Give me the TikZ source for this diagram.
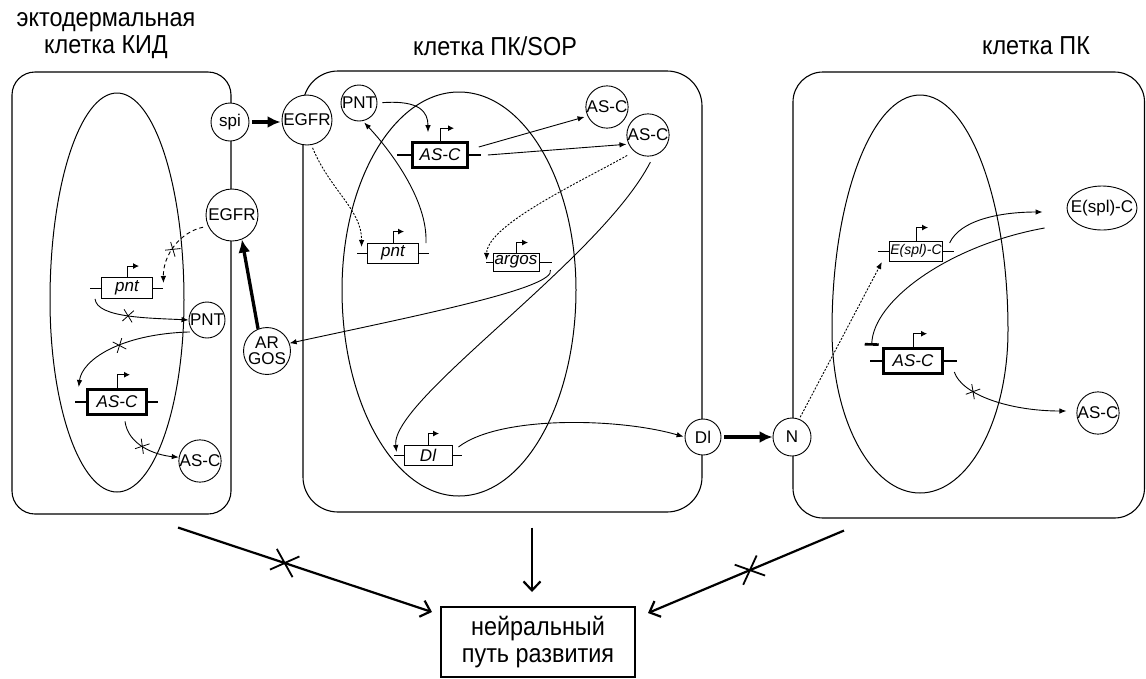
\documentclass[tikz,border=0pt]{standalone}
\usepackage{fontspec}
\setmainfont{Liberation Sans}
\newfontfamily\narrowf[FakeStretch=0.9]{Liberation Sans}
\usetikzlibrary{arrows.meta,shapes.geometric,shapes.misc,calc}
\newcommand\molf{\fontsize{17}{16}\selectfont}
\newcommand\genef{\fontsize{17}{18}\selectfont\itshape}
\newcommand\smgenef{\fontsize{14}{15}\selectfont\itshape}
\newcommand\lblf{\narrowf\fontsize{26}{27}\selectfont}
\newcommand\bigf{\narrowf\fontsize{26}{27}\selectfont}
% egg-shaped nucleus: cx, top, widest y, bottom, half width
\newcommand\myegg[5]{%
 \draw[eggline] (#1,#2) .. controls ({#1-0.552*#5},#2) and ({#1-#5},{#3-0.552*(#3-#2)}) .. ({#1-#5},#3)
 .. controls ({#1-#5},{#3+0.552*(#4-#3)}) and ({#1-0.552*#5},#4) .. (#1,#4)
 .. controls ({#1+0.552*#5},#4) and ({#1+#5},{#3+0.552*(#4-#3)}) .. ({#1+#5},#3)
 .. controls ({#1+#5},{#3-0.552*(#3-#2)}) and ({#1+0.552*#5},#2) .. (#1,#2) -- cycle;}
\begin{document}
\begin{tikzpicture}[x=1pt,y=-1pt,
 cell/.style={draw, line width=1.1pt, inner sep=0pt},
 eggline/.style={line width=1pt},
 mol/.style={circle, draw, fill=white, line width=0.9pt, inner sep=0pt, font=\molf},
 gene/.style={draw, fill=white, line width=0.9pt, inner sep=0.5pt, font=\genef},
 bgene/.style={gene, line width=2.6pt},
 stub/.style={line width=0.9pt},
 bstub/.style={line width=2.8pt},
 prom/.style={line width=0.9pt, -{Latex[length=6pt,width=6pt]}},
 conn/.style={line width=0.9pt, -{Latex[length=7pt,width=5.5pt]}},
 ldash/.style={dash pattern=on 4pt off 3pt},
 sdash/.style={dash pattern=on 2pt off 1.5pt},
 fat/.style={line width=3.3pt, -{Latex[length=13pt,width=12pt]}},
 rep/.style={line width=0.9pt, -{Bar[width=14pt,line width=2.6pt]}},
 bigarr/.style={line width=2.2pt, -{Straight Barb[length=9pt,width=17pt]}},
 xm/.style={cross out, draw, solid, arrows=-, shorten <=0pt, shorten >=0pt, line width=0.8pt, minimum width=9pt, minimum height=11pt, inner sep=0pt, sloped},
 xbig/.style={xm, line width=1.8pt, minimum width=22pt, minimum height=20pt},
 lbl/.style={font=\lblf, inner sep=0pt}
]
\useasboundingbox (0,0) rectangle (1146,678);
% titles
\node[lbl, align=center] (tL) at (106,36) {эктодермальная\\клетка КИД};
\node[lbl] (tM) at (495,46) {клетка ПК/SOP};
\node[lbl] (tR) at (1036,46) {клетка ПК};
% cells
\node[cell, rounded corners=23pt, minimum width=219pt, minimum height=442pt] (cellL) at (121.5,293) {};
\node[cell, rounded corners=35pt, minimum width=399pt, minimum height=441pt] (cellM) at (502.5,291.5) {};
\node[cell, rounded corners=30pt, minimum width=351.5pt, minimum height=446pt] (cellR) at (968.75,295) {};
% nuclei
\myegg{117}{93}{300}{492}{67}
\myegg{459}{92}{290}{496}{117}
\myegg{920}{95}{330}{493}{88}
% molecules
\node[mol, minimum size=38pt] (spi) at (230,122) {spi};
\node[mol, minimum size=52pt] (egfrL) at (232,215) {EGFR};
\node[mol, minimum size=36pt] (pntLp) at (207,320) {PNT};
\node[mol, minimum size=42pt] (ascLp) at (200,461) {AS-C};
\node[mol, minimum size=46pt, align=center] (argosp) at (267,351) {AR\\GOS};
\node[mol, minimum size=50pt] (egfrM) at (307,120) {EGFR};
\node[mol, minimum size=36pt] (pntMp) at (359,103) {PNT};
\node[mol, minimum size=40pt] (asc1) at (607,107) {AS-C};
\node[mol, minimum size=42pt] (asc2) at (648,135) {AS-C};
\node[mol, minimum size=36pt] (dlp) at (703,437) {Dl};
\node[mol, minimum size=38pt] (np) at (792,437) {N};
\node[mol, ellipse, minimum width=70pt, minimum height=44pt] (esplp) at (1102,208) {\makebox[0pt]{E(spl)-C}};
\node[mol, minimum size=42pt] (ascRp) at (1098,413) {AS-C};
% genes
\node[gene, minimum width=51pt, minimum height=21pt] (pntL) at (127,288) {pnt};
\node[bgene, minimum width=59pt, minimum height=25pt] (ascL) at (117,402) {AS-C};
\node[bgene, minimum width=55pt, minimum height=25pt] (ascM) at (440,155) {AS-C};
\node[gene, minimum width=51pt, minimum height=20pt] (pntM) at (393,253) {pnt};
\node[gene, minimum width=46pt, minimum height=18pt] (argos) at (516,262) {argos};
\node[gene, minimum width=48pt, minimum height=20pt] (dlg) at (428,455) {Dl};
\node[gene, font=\smgenef, minimum width=51pt, minimum height=20pt] (esplg) at (916,251) {E(spl)-C};
\node[bgene, minimum width=59pt, minimum height=25pt] (ascR) at (913,361) {AS-C};
% stubs
\draw[stub] (pntL.west) -- ++(-11,0);  \draw[stub] (pntL.east) -- ++(10,0);
\draw[bstub] (ascL.west) -- ++(-11,0); \draw[bstub] (ascL.east) -- ++(10,0);
\draw[bstub] (ascM.west) -- ++(-14,0); \draw[bstub] (ascM.east) -- ++(12,0);
\draw[stub] (pntM.west) -- ++(-10,0);  \draw[stub] (pntM.east) -- ++(10,0);
\draw[stub] (argos.west) -- ++(-7,0);  \draw[stub] (argos.east) -- ++(13,0);
\draw[stub] (dlg.west) -- ++(-10,0);   \draw[stub] (dlg.east) -- ++(10,0);
\draw[stub] (esplg.west) -- ++(-11,0); \draw[stub] (esplg.east) -- ++(11,0);
\draw[bstub] (ascR.west) -- ++(-12,0); \draw[bstub] (ascR.east) -- ++(13,0);
% promoters
\draw[prom] (pntL.north) -- ++(0,-11) -- ++(12,0);
\draw[prom] (ascL.north) -- ++(0,-13.5) -- ++(13,0);
\draw[prom] (ascM.north) -- ++(0,-13) -- ++(14,0);
\draw[prom] (pntM.north) -- ++(0,-11) -- ++(11,0);
\draw[prom] (argos.north) -- ++(0,-10) -- ++(12,0);
\draw[prom] (dlg.north) -- ++(0,-11) -- ++(11,0);
\draw[prom] (esplg.north) -- ++(0,-13) -- ++(12,0);
\draw[prom] (ascR.north) -- ++(0,-13.5) -- ++(14,0);
% left cell connectors
\draw[conn, ldash, shorten <=5pt] (egfrL.205) .. controls (180,232) and (163,255) .. ($(pntL.east)+(10.5,-5)$) node[xm, pos=0.55] {};
\draw[conn] ($(pntL.south west)+(-6,0)$) .. controls (97,318) and (150,318) .. (pntLp.west) node[xm, pos=0.5] {};
\draw[conn, shorten <=3pt] (pntLp.220) .. controls (120,334) and (82,360) .. ($(ascL.west)+(-7.5,-15)$) node[xm, pos=0.42] {};
\draw[conn] ($(ascL.south)+(8,5.5)$) .. controls (128,445) and (155,455) .. (ascLp.170) node[xm, pos=0.47] {};
\draw[fat] (argosp.112) -- (egfrL.-68);
\draw[fat, shorten <=3pt, shorten >=1pt] (spi.east) -- (spi.east -| egfrM.west);
% middle cell connectors
\draw[conn, shorten <=5pt] (pntMp.east) .. controls (420,100) and (428,112) .. ($(ascM.north)+(-12,-9)$);
\draw[conn, shorten >=3pt] ($(ascM.east)+(10,-8)$) -- (asc1.205);
\draw[conn, shorten >=2pt] ($(ascM.east)+(19,0)$) -- (asc2.205);
\draw[conn, sdash, shorten <=8pt] (asc2.230) .. controls (580,182) and (487,225) .. ($(argos.west)+(-6,-2)$);
\draw[conn, shorten <=7pt] (asc2.-75) .. controls (600,260) and (390,400) .. ($(dlg.west)+(-7,-3)$);
\draw[conn, shorten >=1pt] ($(dlg.east)+(6,-8)$) .. controls (500,415) and (620,418) .. (dlp.west);
\draw[fat, shorten <=3pt] (dlp.east) -- (np.west);
\draw[conn, sdash, shorten <=3pt] (egfrM.-80) .. controls (330,190) and (362,210) .. ($(pntM.west)+(-5.5,-6)$);
\draw[conn, shorten >=2pt] ($(pntM.east)+(7,-10)$) .. controls (428,200) and (390,150) .. (pntMp.-78);
\draw[conn] ($(argos.east)+(11,8)$) .. controls (556,288) and (420,315) .. (argosp.19);
% right cell connectors
\draw[conn, sdash, shorten <=2pt] (np.68) -- ($(esplg.west)+(-7.5,11)$);
\draw[conn] ($(esplg.east)+(7,-8)$) .. controls (960,220) and (1000,212) .. ($(esplp.west)+(-24,4)$);
\draw[rep] ($(esplp.west)+(-22,20)$) .. controls (950,245) and (873,300) .. ($(ascR.north west)+(-10.5,-1.5)$);
\draw[conn] ($(ascR.east)+(10.5,11)$) .. controls (962,395) and (1010,411) .. ($(ascRp.west)+(-10,-2)$) node[xm, pos=0.32] {};
% outcome
\node[draw, line width=2pt, minimum width=194pt, minimum height=70pt, align=center, font=\bigf, inner sep=0pt] (neur) at (538,642) {нейральный\\путь развития};
\draw[bigarr] ($(cellL.south)+(56.5,13)$) -- ($(neur.north west)+(-8,6)$) node[xbig, pos=0.42] {};
\draw[bigarr] ($(cellM.south)+(29.5,15)$) -- ($(neur.north)+(-6,-14)$);
\draw[bigarr] ($(cellR.south)+(-124.75,12)$) -- ($(neur.north east)+(12,7)$) node[xbig, pos=0.48] {};
\end{tikzpicture}
\end{document}
